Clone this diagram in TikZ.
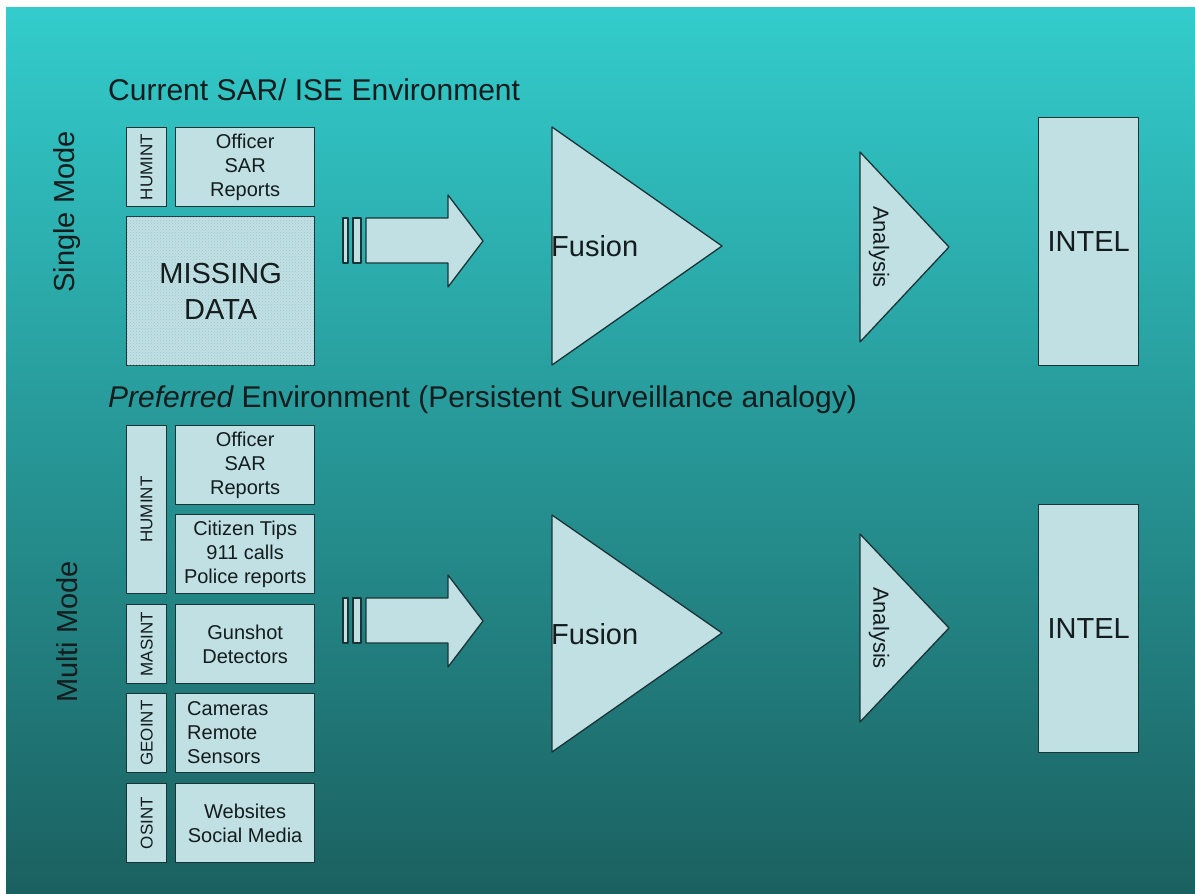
\documentclass[tikz,border=0pt]{standalone}
\usepackage{fontspec}
\setmainfont{Liberation Sans}
\usetikzlibrary{patterns}
\definecolor{tealtop}{RGB}{51,204,204}
\definecolor{tealbot}{RGB}{27,96,96}
\definecolor{boxfill}{RGB}{192,224,228}
\definecolor{edge}{RGB}{26,52,54}
\definecolor{ink}{RGB}{20,28,30}
\definecolor{dotcol}{RGB}{160,198,204}
\begin{document}
\begin{tikzpicture}[x=1pt,y=-1pt,
    box/.style={draw=edge,fill=boxfill,line width=1.3pt,inner sep=0pt,anchor=north west},
    lbl/.style={font=\fontsize{20}{24}\selectfont,text=ink,align=center},
    tag/.style={font=\fontsize{17}{20}\selectfont,text=ink,rotate=90},
    big/.style={font=\fontsize{29}{36}\selectfont,text=ink,align=center},
    head/.style={font=\fontsize{30}{36}\selectfont,text=ink,anchor=west,inner sep=0pt},
    shp/.style={draw=edge,fill=boxfill,line width=1.3pt,line join=round}]
  \useasboundingbox (0,0) rectangle (1195,894);
  \fill[white] (0,0) rectangle (1195,894);
  \shade[top color=tealtop,bottom color=tealbot] (6,7) rectangle (1195,894);

  % top row
  \node[head] (titleA) at (108,90) {Current SAR/ ISE Environment};
  \node[big,rotate=90] (single) at (67,212) {Single Mode};
  \node[box,minimum width=40,minimum height=79] (humintA) at (126,127) {};
  \node[tag] at (humintA.center) {HUMINT};
  \node[box,minimum width=139,minimum height=79,lbl] (officerA) at (175,127) {Officer\\SAR\\Reports};
  \node[box,minimum width=188,minimum height=149,big,
        postaction={pattern=crosshatch dots,pattern color=dotcol}] (missing) at (126,216) {};
  \node[big] at (missing.center) {MISSING\\DATA};
  \draw[shp] (343,218) rectangle (348,263);
  \draw[shp] (353,218) rectangle (361,263);
  \draw[shp] (366,218) -- (448,218) -- (448,195) -- (483,241) -- (448,287) -- (448,263) -- (366,263) -- cycle;
  \draw[shp] (552,127) -- (722,246) -- (552,365) -- cycle;
  \node[big,anchor=west,inner sep=0pt] (fusionA) at (551,246) {Fusion};
  \draw[shp] (860,152) -- (949,247) -- (860,342) -- cycle;
  \node[font=\fontsize{22}{26}\selectfont,text=ink,rotate=-90] (analysisA) at (879,247) {Analysis};
  \node[box,minimum width=100,minimum height=248,big] (intelA) at (1038,117) {INTEL};

  % bottom row
  \node[head] (titleB) at (108,400) {\itshape Preferred\upshape{} Environment (Persistent Surveillance analogy)};
  \node[big,rotate=90] (multi) at (67,632) {Multi Mode};
  \node[box,minimum width=40,minimum height=168] (humintB) at (126,425) {};
  \node[tag] at (humintB.center) {HUMINT};
  \node[box,minimum width=139,minimum height=79,lbl] (officerB) at (175,425) {Officer\\SAR\\Reports};
  \node[box,minimum width=139,minimum height=79,lbl] (citizen) at (175,514) {Citizen Tips\\911 calls\\Police reports};
  \node[box,minimum width=40,minimum height=79] (masint) at (126,604) {};
  \node[tag] at (masint.center) {MASINT};
  \node[box,minimum width=139,minimum height=79,lbl] (gunshot) at (175,604) {Gunshot\\Detectors};
  \node[box,minimum width=40,minimum height=79] (geoint) at (126,693) {};
  \node[tag] at (geoint.center) {GEOINT};
  \node[box,minimum width=139,minimum height=79] (cameras) at (175,693) {};
  \node[lbl,align=left,anchor=west,inner sep=0pt] at (187,732.5) {Cameras\\Remote\\Sensors};
  \node[box,minimum width=40,minimum height=79] (osint) at (126,783) {};
  \node[tag] at (osint.center) {OSINT};
  \node[box,minimum width=139,minimum height=79,lbl] (websites) at (175,783) {Websites\\Social Media};
  \draw[shp] (343,598) rectangle (348,643);
  \draw[shp] (353,598) rectangle (361,643);
  \draw[shp] (366,598) -- (448,598) -- (448,575) -- (483,621) -- (448,667) -- (448,643) -- (366,643) -- cycle;
  \draw[shp] (552,515) -- (722,633) -- (552,752) -- cycle;
  \node[big,anchor=west,inner sep=0pt] (fusionB) at (551,634) {Fusion};
  \draw[shp] (860,534) -- (949,628) -- (860,722) -- cycle;
  \node[font=\fontsize{22}{26}\selectfont,text=ink,rotate=-90] (analysisB) at (879,628) {Analysis};
  \node[box,minimum width=100,minimum height=248,big] (intelB) at (1038,504) {INTEL};
\end{tikzpicture}
\end{document}
